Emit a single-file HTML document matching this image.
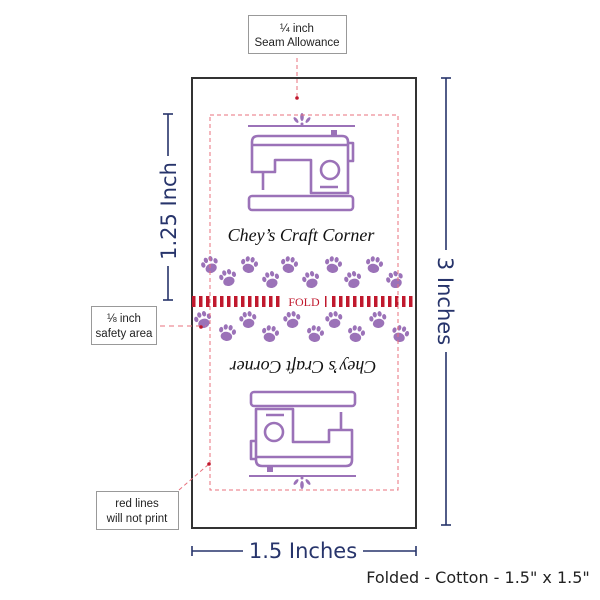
<!DOCTYPE html>
<html><head><meta charset="utf-8"><style>
html,body{margin:0;padding:0;background:#fff;width:600px;height:600px;overflow:hidden}
svg{display:block}
</style></head><body>
<svg width="600" height="600" viewBox="0 0 600 600" xmlns="http://www.w3.org/2000/svg">
<defs>
<pattern id="st" x="192" y="0" width="7" height="10" patternUnits="userSpaceOnUse"><rect x="0" y="0" width="3.5" height="10" fill="#c0182d"/></pattern>
<g id="paw" fill="#9b72b8">
<ellipse cx="0" cy="3" rx="5" ry="4"/>
<ellipse cx="-5.5" cy="-2" rx="1.8" ry="2.4"/>
<ellipse cx="-2" cy="-5" rx="1.8" ry="2.4"/>
<ellipse cx="2.3" cy="-5" rx="1.8" ry="2.4"/>
<ellipse cx="5.8" cy="-1.8" rx="1.8" ry="2.4"/>
</g>
<g id="half">
<line x1="248" y1="126" x2="355" y2="126" stroke="#9b72b8" stroke-width="2"/>
<g fill="#9b72b8"><ellipse cx="302" cy="117" rx="1.8" ry="4"/><ellipse cx="296" cy="120" rx="1.5" ry="3.5" transform="rotate(-40 296 120)"/><ellipse cx="308" cy="120" rx="1.5" ry="3.5" transform="rotate(40 308 120)"/><circle cx="302" cy="124" r="1.5"/></g>
<g fill="none" stroke="#9b72b8" stroke-width="2.6" stroke-linejoin="round">
<path d="M252,172 V142 Q252,136 258,136 H342 Q348,136 348,142 V193 H311 V160 H275 V172 Z"/>
<line x1="252" y1="145" x2="348" y2="145"/>
<path d="M348,143 H353 V161 H348"/>
<circle cx="330" cy="170" r="9"/>
<line x1="320" y1="187" x2="338" y2="187"/>
<line x1="263" y1="172" x2="263" y2="190"/>
<rect x="249" y="196" width="104" height="14" rx="3"/>
</g>
<rect x="331" y="130" width="6" height="6" fill="#9b72b8"/>
<text x="301" y="241" text-anchor="middle" font-family="Liberation Serif, serif" font-style="italic" font-size="18" fill="#111">Chey’s Craft Corner</text>
</g>
</defs>

<rect x="192" y="78" width="224" height="450" fill="#fff" stroke="#333" stroke-width="2"/>

<use href="#half"/>
<use href="#half" transform="rotate(180 302 301)"/>

<g>
<use href="#paw" transform="translate(210,265) rotate(-20) scale(1.15)"/>
<use href="#paw" transform="translate(228,278) rotate(-15) scale(1.15)"/>
<use href="#paw" transform="translate(249,265) rotate(10) scale(1.15)"/>
<use href="#paw" transform="translate(271,280) rotate(-15) scale(1.15)"/>
<use href="#paw" transform="translate(289,265) rotate(10) scale(1.15)"/>
<use href="#paw" transform="translate(311,280) rotate(-15) scale(1.15)"/>
<use href="#paw" transform="translate(333,265) rotate(10) scale(1.15)"/>
<use href="#paw" transform="translate(353,280) rotate(-15) scale(1.15)"/>
<use href="#paw" transform="translate(374,265) rotate(10) scale(1.15)"/>
<use href="#paw" transform="translate(395,280) rotate(-20) scale(1.15)"/>
<use href="#paw" transform="translate(203,320) rotate(-15) scale(1.15)"/>
<use href="#paw" transform="translate(227,333) rotate(10) scale(1.15)"/>
<use href="#paw" transform="translate(248,320) rotate(-10) scale(1.15)"/>
<use href="#paw" transform="translate(270,334) rotate(10) scale(1.15)"/>
<use href="#paw" transform="translate(292,320) rotate(-10) scale(1.15)"/>
<use href="#paw" transform="translate(315,334) rotate(10) scale(1.15)"/>
<use href="#paw" transform="translate(334,320) rotate(-10) scale(1.15)"/>
<use href="#paw" transform="translate(356,334) rotate(10) scale(1.15)"/>
<use href="#paw" transform="translate(378,320) rotate(-10) scale(1.15)"/>
<use href="#paw" transform="translate(400,334) rotate(15) scale(1.15)"/>
</g>

<rect x="192" y="296" width="91" height="11" fill="url(#st)"/>
<rect x="329" y="296" width="87" height="11" fill="url(#st)"/>
<rect x="325" y="296" width="1.5" height="11" fill="#c0182d"/>
<text x="304" y="306" text-anchor="middle" font-family="Liberation Serif, serif" font-size="12" fill="#c0182d">FOLD</text>

<rect x="210" y="115" width="188" height="375" fill="none" stroke="#e8707c" stroke-width="1" stroke-dasharray="4,3"/>

<rect x="248.5" y="15.5" width="98" height="38" fill="#fff" stroke="#999"/>
<text x="297" y="32" text-anchor="middle" font-family="Liberation Sans, sans-serif" font-size="11.5" fill="#222">¼ inch</text>
<text x="297" y="46" text-anchor="middle" font-family="Liberation Sans, sans-serif" font-size="11.5" fill="#222">Seam Allowance</text>
<line x1="297" y1="58" x2="297" y2="97" stroke="#e8707c" stroke-dasharray="4,3"/>
<circle cx="297" cy="98" r="1.8" fill="#c0182d"/>

<rect x="91.5" y="306.5" width="65" height="38" fill="#fff" stroke="#999"/>
<text x="124" y="322" text-anchor="middle" font-family="Liberation Sans, sans-serif" font-size="11.5" fill="#222">⅛ inch</text>
<text x="124" y="337" text-anchor="middle" font-family="Liberation Sans, sans-serif" font-size="11.5" fill="#222">safety area</text>
<line x1="160" y1="326" x2="206" y2="326" stroke="#e8707c" stroke-dasharray="5,4"/>
<circle cx="201" cy="327" r="1.8" fill="#c0182d"/>

<rect x="96.5" y="491.5" width="82" height="38" fill="#fff" stroke="#999"/>
<text x="137" y="507" text-anchor="middle" font-family="Liberation Sans, sans-serif" font-size="11.5" fill="#222">red lines</text>
<text x="137" y="522" text-anchor="middle" font-family="Liberation Sans, sans-serif" font-size="11.5" fill="#222">will not print</text>
<line x1="179" y1="490" x2="209" y2="464" stroke="#e8707c" stroke-dasharray="4,3"/>
<circle cx="209" cy="464" r="1.8" fill="#c0182d"/>

<g stroke="#27346b" stroke-width="1.6" fill="none">
<line x1="168" y1="114" x2="168" y2="156"/><line x1="163" y1="114" x2="173" y2="114"/>
<line x1="168" y1="266" x2="168" y2="300"/><line x1="163" y1="300" x2="173" y2="300"/>
<line x1="446" y1="78" x2="446" y2="250"/><line x1="441" y1="78" x2="451" y2="78"/>
<line x1="446" y1="352" x2="446" y2="525"/><line x1="441" y1="525" x2="451" y2="525"/>
<line x1="192" y1="551" x2="243" y2="551"/><line x1="192" y1="546" x2="192" y2="556"/>
<line x1="363" y1="551" x2="416" y2="551"/><line x1="416" y1="546" x2="416" y2="556"/>
</g>
<text transform="translate(176,211) rotate(-90)" text-anchor="middle" font-family="DejaVu Sans, sans-serif" font-size="21" fill="#27346b">1.25 Inch</text>
<text transform="translate(438,301) rotate(90)" text-anchor="middle" font-family="DejaVu Sans, sans-serif" font-size="21" fill="#27346b">3 Inches</text>
<text x="303" y="558" text-anchor="middle" font-family="DejaVu Sans, sans-serif" font-size="21" fill="#27346b">1.5 Inches</text>
<text x="478" y="583" text-anchor="middle" font-family="DejaVu Sans, sans-serif" font-size="16" fill="#222">Folded - Cotton - 1.5" x 1.5"</text>
</svg>
</body></html>
